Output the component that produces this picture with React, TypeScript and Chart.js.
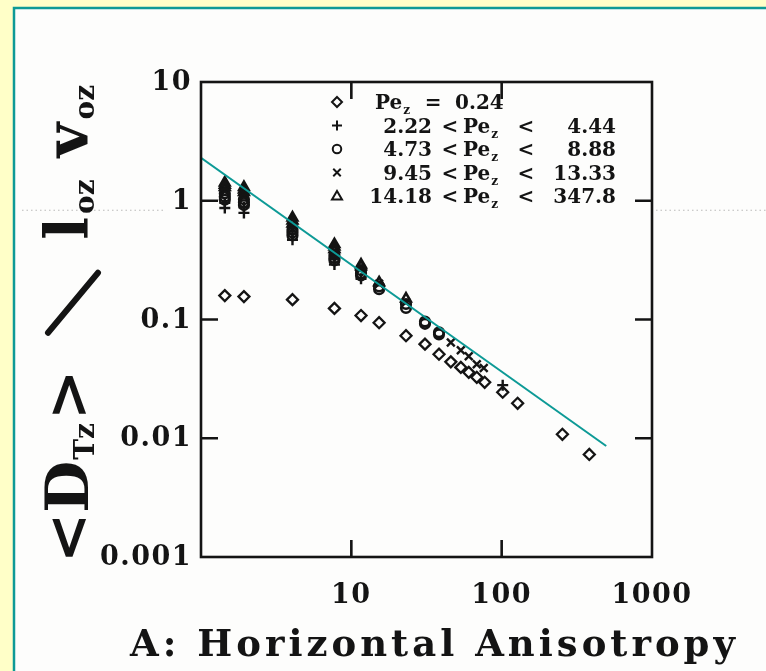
import { useEffect, useRef } from "react";
import { Chart, registerables } from "chart.js";

Chart.register(...registerables);

// Axis decades and their printed labels
const xTickValues = [10, 100, 1000];
const xTickLabels = ["10", "100", "1000"];
const yTickValues = [0.001, 0.01, 0.1, 1, 10];
const yTickLabels = ["0.001", "0.01", "0.1", "1", "10"];

// Pe_z = 0.24
const diamondX = [1.44, 1.93, 4.06, 7.72, 11.6, 15.3, 23.1, 30.9, 38.3, 45.9, 53.5, 60.4, 68.3, 77.1, 101.6, 127.7, 253.5, 382.7];
const diamondY = [0.159, 0.156, 0.147, 0.124, 0.108, 0.094, 0.073, 0.062, 0.051, 0.044, 0.0395, 0.0359, 0.0326, 0.0296, 0.0244, 0.0197, 0.0108, 0.0073];

// 2.22 < Pe_z < 4.44
const plusX = [1.44, 1.44, 1.93, 1.93, 4.06, 4.06, 7.72, 7.72, 11.6, 101.6];
const plusY = [0.96, 0.87, 0.88, 0.79, 0.53, 0.47, 0.33, 0.29, 0.22, 0.028];

// 4.73 < Pe_z < 8.88
const circleX = [1.44, 1.44, 1.44, 1.93, 1.93, 1.93, 4.06, 4.06, 4.06, 7.72, 7.72, 7.72, 11.6, 11.6, 11.6, 15.3, 15.3, 23.1, 23.1, 30.9, 30.9, 38.3, 38.3];
const circleY = [1.15, 1.08, 1.02, 1.03, 0.97, 0.92, 0.57, 0.54, 0.51, 0.35, 0.33, 0.315, 0.26, 0.245, 0.235, 0.19, 0.18, 0.135, 0.125, 0.096, 0.092, 0.078, 0.075];

// 9.45 < Pe_z < 13.33
const crossX = [1.44, 1.44, 1.93, 1.93, 4.06, 4.06, 7.72, 7.72, 11.6, 15.3, 23.1, 45.9, 53.5, 60.4, 68.3, 76.0];
const crossY = [1.27, 1.2, 1.14, 1.08, 0.62, 0.58, 0.38, 0.36, 0.27, 0.2, 0.14, 0.064, 0.055, 0.049, 0.042, 0.039];

// 14.18 < Pe_z < 347.8
const triangleX = [1.44, 1.44, 1.44, 1.93, 1.93, 1.93, 4.06, 4.06, 4.06, 7.72, 7.72, 7.72, 11.6, 11.6, 15.3, 23.1];
const triangleY = [1.42, 1.36, 1.3, 1.3, 1.24, 1.18, 0.72, 0.68, 0.64, 0.43, 0.41, 0.39, 0.29, 0.28, 0.205, 0.15];

// Power-law fit line end points
const fitX = [1, 496];
const fitY = [2.3, 0.0086];

// Legend content
const legendSymbols = ["rectRot", "cross", "circle", "crossRot", "triangle"];
const legendLower = ["", "2.22", "4.73", "9.45", "14.18"];
const legendUpper = ["0.24", "4.44", "8.88", "13.33", "347.8"];

const SERIF = '"DejaVu Serif", "Liberation Serif", serif';
const INK = "#141414";
const TEAL = "#0d9a96";
const PAPER_BG = "#ffffc8";

type Pt = { x: number; y: number };
const toPoints = (xs: number[], ys: number[]): Pt[] => xs.map((x, i) => ({ x, y: ys[i] }));

function symbol(ctx: CanvasRenderingContext2D, kind: string, x: number, y: number, r: number) {
  ctx.beginPath();
  switch (kind) {
    case "rectRot":
      ctx.moveTo(x, y - r);
      ctx.lineTo(x + r, y);
      ctx.lineTo(x, y + r);
      ctx.lineTo(x - r, y);
      ctx.closePath();
      break;
    case "cross":
      ctx.moveTo(x - r, y);
      ctx.lineTo(x + r, y);
      ctx.moveTo(x, y - r);
      ctx.lineTo(x, y + r);
      break;
    case "circle":
      ctx.arc(x, y, r * 0.85, 0, Math.PI * 2);
      break;
    case "crossRot": {
      const d = r * 0.75;
      ctx.moveTo(x - d, y - d);
      ctx.lineTo(x + d, y + d);
      ctx.moveTo(x + d, y - d);
      ctx.lineTo(x - d, y + d);
      break;
    }
    case "triangle":
      ctx.moveTo(x, y - r);
      ctx.lineTo(x + r, y + r * 0.7);
      ctx.lineTo(x - r, y + r * 0.7);
      ctx.closePath();
      break;
  }
  ctx.stroke();
}

const LEGEND_FONT = `bold 20px ${SERIF}`;

// Draws "Pe" with a subscript z, starting at x; returns the end x
function drawPe(ctx: CanvasRenderingContext2D, x: number, y: number) {
  ctx.textAlign = "left";
  ctx.font = LEGEND_FONT;
  ctx.fillText("Pe", x, y);
  const w = ctx.measureText("Pe").width;
  ctx.font = `bold 12px ${SERIF}`;
  ctx.fillText("z", x + w + 1, y + 5);
  return x + w + 1 + ctx.measureText("z").width;
}

const panelPlugin = {
  id: "panel",
  beforeDraw(chart: any) {
    const ctx: CanvasRenderingContext2D = chart.ctx;
    const { width, height } = chart;
    ctx.save();
    ctx.fillStyle = PAPER_BG;
    ctx.fillRect(0, 0, width, height);
    ctx.fillStyle = "#fdfdfc";
    ctx.fillRect(14, 8, width, height);
    ctx.strokeStyle = TEAL;
    ctx.lineWidth = 2.5;
    ctx.strokeRect(14, 8, width + 10, height + 10);

    // faint printed guide near unit level outside the frame
    const y1 = chart.scales.y.getPixelForValue(1) + 9;
    const { left, right } = chart.chartArea;
    ctx.strokeStyle = "rgba(120,120,120,0.5)";
    ctx.lineWidth = 1;
    ctx.setLineDash([1.5, 3]);
    ctx.beginPath();
    ctx.moveTo(22, y1 + 0.5);
    ctx.lineTo(left - 35, y1 + 0.5);
    ctx.moveTo(right + 4, y1 + 0.5);
    ctx.lineTo(width, y1 + 0.5);
    ctx.stroke();
    ctx.restore();
  },
};

const framePlugin = {
  id: "frame",
  afterDraw(chart: any) {
    const ctx: CanvasRenderingContext2D = chart.ctx;
    const { left, right, top, bottom } = chart.chartArea;
    const xs = chart.scales.x;
    const ys = chart.scales.y;
    const tick = 17;
    ctx.save();
    ctx.strokeStyle = INK;
    ctx.fillStyle = INK;
    ctx.lineWidth = 2.6;
    ctx.strokeRect(left, top, right - left, bottom - top);
    ctx.beginPath();
    xTickValues.forEach((v) => {
      if (v >= 1000) return;
      const px = xs.getPixelForValue(v);
      ctx.moveTo(px, bottom);
      ctx.lineTo(px, bottom - tick);
      ctx.moveTo(px, top);
      ctx.lineTo(px, top + tick);
    });
    yTickValues.forEach((v) => {
      if (v <= 0.001 || v >= 10) return;
      const py = ys.getPixelForValue(v);
      ctx.moveTo(left, py);
      ctx.lineTo(left + tick, py);
      ctx.moveTo(right, py);
      ctx.lineTo(right - tick, py);
    });
    ctx.stroke();

    // tick labels
    ctx.font = `bold 27px ${SERIF}`;
    (ctx as any).letterSpacing = "1.5px";
    ctx.textBaseline = "middle";
    ctx.textAlign = "right";
    yTickValues.forEach((v, i) => {
      ctx.fillText(yTickLabels[i], left - 9, ys.getPixelForValue(v) + 1);
    });
    ctx.textAlign = "center";
    xTickValues.forEach((v, i) => {
      ctx.fillText(xTickLabels[i], xs.getPixelForValue(v), bottom + 39);
    });

    // x-axis title
    const title = "A: Horizontal Anisotropy";
    ctx.font = `bold 37px ${SERIF}`;
    (ctx as any).letterSpacing = "0px";
    const raw = ctx.measureText(title).width;
    const spacing = Math.max(0, (605 - raw) / (title.length - 1));
    (ctx as any).letterSpacing = `${spacing}px`;
    ctx.textAlign = "left";
    ctx.textBaseline = "alphabetic";
    ctx.fillText(title, 130, 656);
    (ctx as any).letterSpacing = "0px";

    // y-axis title, read bottom to top
    ctx.save();
    ctx.translate(88, 324);
    ctx.rotate(-Math.PI / 2);
    const big = `bold 60px ${SERIF}`;
    const small = `bold 28px ${SERIF}`;
    const segs: { t: string; sub: boolean; gap: number }[] = [
      { t: "<D", sub: false, gap: 0 },
      { t: "Tz", sub: true, gap: 1 },
      { t: ">", sub: false, gap: 3 },
      { t: "/", sub: false, gap: 34 },
      { t: "l", sub: false, gap: 30 },
      { t: "oz", sub: true, gap: 3 },
      { t: "v", sub: false, gap: 22 },
      { t: "oz", sub: true, gap: 3 },
    ];
    let total = 0;
    const widths = segs.map((s) => {
      ctx.font = s.sub ? small : big;
      const w = s.t === "/" ? 66 : ctx.measureText(s.t).width;
      total += s.gap + w;
      return w;
    });
    let cx = -total / 2;
    segs.forEach((s, i) => {
      cx += s.gap;
      if (s.t === "/") {
        ctx.save();
        ctx.lineWidth = 6;
        ctx.lineCap = "round";
        ctx.beginPath();
        ctx.moveTo(cx + 3, -40);
        ctx.lineTo(cx + widths[i] - 3, 10);
        ctx.stroke();
        ctx.restore();
      } else {
        ctx.font = s.sub ? small : big;
        ctx.fillText(s.t, cx, s.sub ? 6 : 0);
      }
      cx += widths[i];
    });
    ctx.restore();

    // legend
    const symX = 337;
    const rowTop = 102;
    const rowGap = 23.5;
    legendSymbols.forEach((kind, i) => {
      const y = rowTop + i * rowGap;
      ctx.lineWidth = 2;
      symbol(ctx, kind, symX, y, 5);
      const base = y + 7;
      ctx.font = LEGEND_FONT;
      if (!legendLower[i]) {
        const e = drawPe(ctx, 375, base);
        ctx.font = LEGEND_FONT;
        ctx.textAlign = "center";
        ctx.fillText("=", e + 23, base);
        ctx.textAlign = "left";
        ctx.fillText(legendUpper[i], 455, base);
      } else {
        ctx.textAlign = "right";
        ctx.fillText(legendLower[i], 432, base);
        ctx.textAlign = "center";
        ctx.fillText("<", 450, base);
        drawPe(ctx, 463, base);
        ctx.font = LEGEND_FONT;
        ctx.textAlign = "center";
        ctx.fillText("<", 526, base);
        ctx.textAlign = "right";
        ctx.fillText(legendUpper[i], 616, base);
      }
    });
    ctx.restore();
  },
};

export default function App() {
  const ref = useRef<HTMLCanvasElement>(null);

  useEffect(() => {
    const canvas = ref.current;
    if (!canvas) return;
    const markers = (label: string, xs: number[], ys: number[], style: string, radius: number, width: number) => ({
      type: "scatter" as const,
      label,
      data: toPoints(xs, ys),
      pointStyle: style,
      pointRadius: radius,
      pointHoverRadius: radius,
      pointBorderColor: INK,
      pointBackgroundColor: "rgba(0,0,0,0)",
      pointBorderWidth: width,
      showLine: false,
    });
    const chart = new Chart(canvas, {
      type: "scatter",
      data: {
        datasets: [
          {
            type: "line",
            label: "fit",
            data: toPoints(fitX, fitY),
            borderColor: TEAL,
            borderWidth: 2,
            pointRadius: 0,
            fill: false,
            tension: 0,
          } as any,
          markers("Pe_z = 0.24", diamondX, diamondY, "rectRot", 5.5, 2.3),
          markers("2.22 < Pe_z < 4.44", plusX, plusY, "cross", 5.5, 2.4),
          markers("4.73 < Pe_z < 8.88", circleX, circleY, "circle", 4.8, 2.6),
          markers("9.45 < Pe_z < 13.33", crossX, crossY, "crossRot", 5.5, 2.4),
          markers("14.18 < Pe_z < 347.8", triangleX, triangleY, "triangle", 5.5, 2.6),
        ] as any,
      },
      options: {
        animation: false,
        responsive: false,
        maintainAspectRatio: false,
        devicePixelRatio: 1,
        events: [],
        layout: { padding: { left: 201, right: 114, top: 82, bottom: 114 } },
        plugins: { legend: { display: false }, tooltip: { enabled: false } },
        scales: {
          x: { type: "logarithmic", min: 1, max: 1000, display: false },
          y: { type: "logarithmic", min: 0.001, max: 10, display: false },
        },
      },
      plugins: [panelPlugin, framePlugin],
    });
    return () => chart.destroy();
  }, []);

  return (
    <div style={{ position: "fixed", left: 0, top: 0, width: 766, height: 671 }}>
      <canvas ref={ref} width={766} height={671} style={{ display: "block" }} />
    </div>
  );
}
